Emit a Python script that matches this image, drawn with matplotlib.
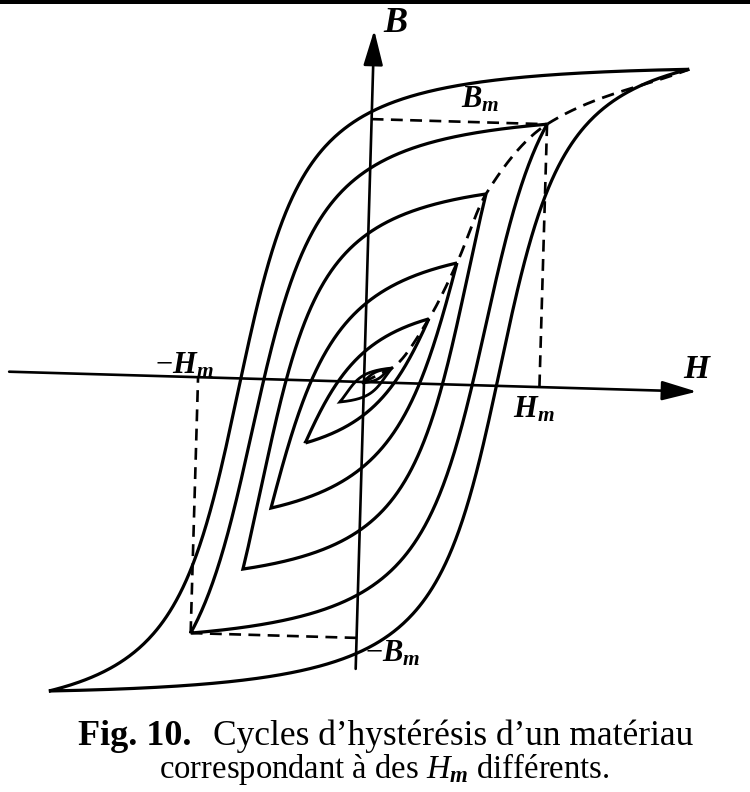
import numpy as np
import matplotlib
matplotlib.use("Agg")
import matplotlib.pyplot as plt
from matplotlib.transforms import Affine2D
from matplotlib.patches import Rectangle

plt.rcParams['font.family'] = ['Liberation Serif', 'DejaVu Serif']
plt.rcParams['mathtext.fontset'] = 'custom'
plt.rcParams['mathtext.rm'] = 'Liberation Serif'
plt.rcParams['mathtext.it'] = 'Liberation Serif:italic'
plt.rcParams['mathtext.bf'] = 'Liberation Serif:bold'
plt.rcParams['mathtext.bfit'] = 'Liberation Serif:bold:italic'

# hysteresis cycles (units ~ pixels, axes frame)
# upper-right and lower-left tips of each cycle, outer cycle first
tip_hi_H = [316, 175.5, 116.5, 89.5, 63, 27.6, 25.6]
tip_hi_B = [322, 263, 191.5, 121.7, 65, 14.8, 13.8]
tip_lo_H = [-306, -166, -115.6, -89.3, -57, -23.6, -2]
tip_lo_B = [-318, -256, -190.5, -128.7, -62.7, -20.7, -1]
# remanence (B at H=0) and coercive field (H at B=0) of each cycle
remanence = [270, 213, 148, 82, 32, 11, 4]
coercive = [128, 104, 78, 54, 28, 13, 6]

# the cycle whose tip is marked Hm / Bm
marked = 1

tilt = -0.029  # the scan is slightly rotated


def fit_branch(Hm, Bm, Br, Hc):
    # descending branch B = amp*atan((H+c)/a) + off through both tips
    cs = np.linspace(-0.5 * Hm, 8 * Hm, 500)
    aa = Hm * np.logspace(-2.5, 1.5, 500)
    C, A = np.meshgrid(cs, aa)
    t_hi = np.arctan((Hm + C) / A)
    t_lo = np.arctan((-Hm + C) / A)
    amp = 2 * Bm / (t_hi - t_lo)
    off = Bm - amp * t_hi
    b0 = amp * np.arctan(C / A) + off
    bc = amp * np.arctan((C - Hc) / A) + off
    err = ((b0 - Br) / Bm) ** 2 + (bc / Bm) ** 2
    k = np.unravel_index(np.argmin(err), err.shape)
    return C[k], A[k], amp[k], off[k]


def pchip(x, y, xs):
    x = np.asarray(x, float)
    y = np.asarray(y, float)
    h = np.diff(x)
    d = np.diff(y) / h
    m = np.zeros_like(y)
    m[0], m[-1] = d[0], d[-1]
    for k in range(1, len(x) - 1):
        if d[k - 1] * d[k] > 0:
            w1 = 2 * h[k] + h[k - 1]
            w2 = h[k] + 2 * h[k - 1]
            m[k] = (w1 + w2) / (w1 / d[k - 1] + w2 / d[k])
    i = np.clip(np.searchsorted(x, xs) - 1, 0, len(x) - 2)
    t = (xs - x[i]) / h[i]
    h00 = 2 * t**3 - 3 * t**2 + 1
    h10 = t**3 - 2 * t**2 + t
    h01 = -2 * t**3 + 3 * t**2
    h11 = t**3 - t**2
    return h00 * y[i] + h10 * h[i] * m[i] + h01 * y[i + 1] + h11 * h[i] * m[i + 1]


fig = plt.figure(figsize=(7.5, 7.92), dpi=100)
ax = fig.add_axes([0, 0, 1, 1])
ax.set_xlim(-364, 386)
ax.set_ylim(-410, 382)
ax.axis('off')

rot = Affine2D().rotate(tilt) + ax.transData
pix = Affine2D().scale(1 / 750, -1 / 792).translate(0, 1) + fig.transFigure

lw = 2.3
# axes with arrows
arrow = dict(arrowstyle='-|>,head_length=0.9,head_width=0.25', lw=1.9,
             color='k', mutation_scale=24, shrinkA=0, shrinkB=0)
ax.annotate('', xy=(0, 352), xytext=(0, -287), xycoords=rot, textcoords=rot,
            arrowprops=arrow)
ax.annotate('', xy=(333, 0), xytext=(-355, 0), xycoords=rot, textcoords=rot,
            arrowprops=arrow)

# hysteresis cycles
for i in range(len(tip_hi_H)):
    h0 = (tip_hi_H[i] + tip_lo_H[i]) / 2
    b0 = (tip_hi_B[i] + tip_lo_B[i]) / 2
    Hm = (tip_hi_H[i] - tip_lo_H[i]) / 2
    Bm = (tip_hi_B[i] - tip_lo_B[i]) / 2
    c, a, amp, off = fit_branch(Hm, Bm, remanence[i], coercive[i])
    hh = np.linspace(-Hm, Hm, 400)
    up = amp * np.arctan((hh + c) / a) + off
    lo = -up[::-1]
    H = np.concatenate([hh[::-1], hh]) + h0
    B = np.concatenate([up[::-1], lo]) + b0
    ax.plot(H, B, color='k', lw=lw if i < 5 else 2.0, transform=rot,
            solid_joinstyle='miter', solid_capstyle='butt')

# first magnetisation curve through the tips
order = np.argsort(tip_hi_H)
ch = np.concatenate([[0.0], np.array(tip_hi_H)[order]])
cb = np.concatenate([[0.0], np.array(tip_hi_B)[order]])
hs = np.linspace(0, ch[-1], 600)
ax.plot(hs, pchip(ch, cb, hs), color='k', lw=2.0, ls=(0, (4.5, 2.8)),
        transform=rot)

# dashed guides to the marked tip
hm, bm = tip_hi_H[marked], tip_hi_B[marked]
hl, bl = tip_lo_H[marked], tip_lo_B[marked]
dash = dict(color='k', lw=1.9, ls=(0, (4.5, 2.8)), transform=rot)
ax.plot([0, hm], [bm, bm], **dash)
ax.plot([hm, hm], [bm, 0], **dash)
ax.plot([hl, hl], [bl, 0], **dash)
ax.plot([hl, 0], [bl, bl], **dash)

# labels
lab = dict(transform=pix, va='baseline', ha='left', color='k')
fig.text(383, 32, r'$\mathbfit{B}$', fontsize=26, **lab)
fig.text(683, 378, r'$\mathbfit{H}$', fontsize=24, **lab)
fig.text(461, 107, r'$\mathbfit{B}_{\mathbfit{m}}$', fontsize=22, **lab)
fig.text(513, 418, r'$\mathbfit{H}_{\mathbfit{m}}$', fontsize=22, **lab)
fig.text(155, 373, r'$-\mathbfit{H}_{\mathbfit{m}}$', fontsize=22, **lab)
fig.text(365, 662, r'$-\mathbfit{B}_{\mathbfit{m}}$', fontsize=22, **lab)

# caption
fig.text(78, 745, 'Fig. 10.', fontsize=26, fontweight='bold', **lab)
fig.text(213, 745, 'Cycles d\u2019hystérésis d\u2019un matériau', fontsize=25.5, **lab)
fig.text(384, 778, r'correspondant à des $\mathit{H}_{\mathbfit{m}}$ différents.',
         fontsize=23.5, transform=pix, va='baseline', ha='center')

# dark border of the scan at the top
fig.patches.append(Rectangle((0, 788), 750, 4,
                             transform=Affine2D().scale(1 / 750, 1 / 792) + fig.transFigure,
                             color='k', lw=0))

fig.savefig('out.png', dpi=100, facecolor='white')
